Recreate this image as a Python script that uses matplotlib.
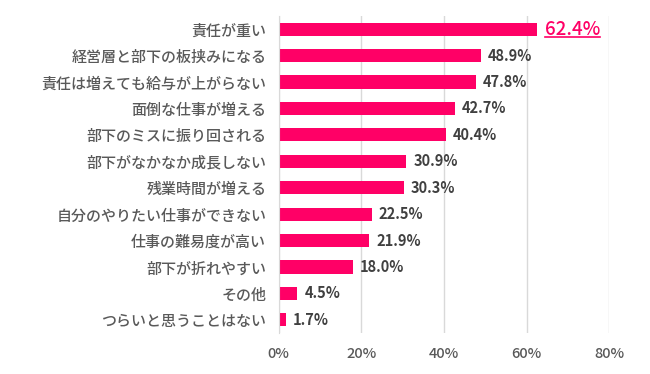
import matplotlib
matplotlib.use("Agg")
import matplotlib.pyplot as plt
from matplotlib.lines import Line2D

plt.rcParams['font.family'] = ['Noto Sans CJK JP', 'DejaVu Sans']

categories = ["責任が重い", "経営層と部下の板挟みになる", "責任は増えても給与が上がらない",
              "面倒な仕事が増える", "部下のミスに振り回される", "部下がなかなか成長しない",
              "残業時間が増える", "自分のやりたい仕事ができない", "仕事の難易度が高い",
              "部下が折れやすい", "その他", "つらいと思うことはない"]
values = [62.4, 48.9, 47.8, 42.7, 40.4, 30.9, 30.3, 22.5, 21.9, 18.0, 4.5, 1.7]
xticks = [0, 20, 40, 60, 80]

pink = "#FF0066"
fig = plt.figure(figsize=(6.5, 3.74), dpi=100)
ax = fig.add_axes([0.4288, 0.1096, 0.5086, 0.8476])

y = list(range(len(categories)))
ax.barh(y, values, height=0.5, color=pink, zorder=3)
ax.set_ylim(len(categories) - 0.5, -0.5)
ax.set_xlim(0, 80)
ax.set_xticks(xticks)
ax.set_xticklabels([f"{t}%" for t in xticks], color="#595959", fontsize=10.5, fontweight="medium")
ax.set_yticks(y)
ax.set_yticklabels(categories, color="#595959", fontsize=10.8, fontweight="medium")
ax.tick_params(length=0, pad=9)
ax.tick_params(axis='x', pad=10)
ax.grid(axis='x', color="#d9d9d9", linewidth=1, zorder=0)
for s in ["top", "right", "bottom"]:
    ax.spines[s].set_visible(False)
ax.spines["left"].set_color("#d9d9d9")
ax.spines["left"].set_zorder(4)

texts = []
for i, v in enumerate(values):
    if i == 0:
        t = ax.annotate(f"{v:.1f}%", (v, i), xytext=(6, 0), textcoords="offset points",
                        va="center", ha="left", fontsize=13.5, fontweight="medium", color=pink)
        texts.append(t)
    else:
        ax.annotate(f"{v:.1f}%", (v, i), xytext=(5, 0), textcoords="offset points",
                    va="center", ha="left", fontsize=10.5, fontweight="bold", color="#404040")

fig.canvas.draw()
r = fig.canvas.get_renderer()
bb = texts[0].get_window_extent(r)
inv = fig.transFigure.inverted()
(x0, y0), (x1, y1) = inv.transform([(bb.x0, bb.y0 + 2), (bb.x1, bb.y0 + 2)])
fig.add_artist(Line2D([x0, x1], [y0, y1], transform=fig.transFigure, color=pink, linewidth=1.2))

fig.savefig("out.png", dpi=100)
